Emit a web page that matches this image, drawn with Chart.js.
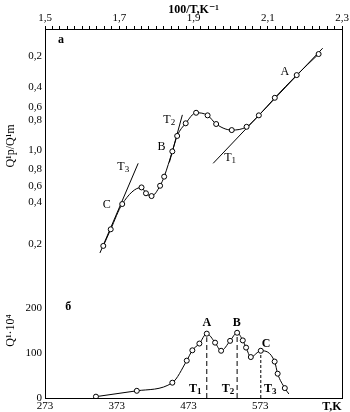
<!DOCTYPE html>
<html>
<head>
<meta charset="utf-8">
<script src="https://cdn.jsdelivr.net/npm/chart.js@4/dist/chart.umd.min.js"></script>
<style>
  body { margin: 0; background: #fff; }
  #wrap { position: relative; width: 350px; height: 412px; }
  #wrap canvas { position: absolute; left: 0; top: 0; }
</style>
</head>
<body>
<div id="wrap">
  <canvas id="topChart" width="350" height="412"></canvas>
  <canvas id="botChart" width="350" height="412"></canvas>
</div>
<script>
// panel "a": Q'p/Q'm versus 100/T
var invT  = [1.657, 1.677, 1.708, 1.760, 1.772, 1.787, 1.810, 1.821, 1.843, 1.856,
             1.879, 1.907, 1.938, 1.961, 2.003, 2.043, 2.076, 2.119, 2.178, 2.237];
var ratio = [0.73, 1.44, 2.52, 3.23, 2.98, 2.86, 3.30, 3.69, 4.77, 5.43,
             5.97, 6.42, 6.31, 5.94, 5.68, 5.82, 6.31, 7.06, 8.03, 8.93];
var invTTicks   = [1.5, 1.7, 1.9, 2.1, 2.3];
var ratioTicks  = [0.81, 2.61, 3.29, 4.02, 4.83, 6.11, 6.67, 7.52, 8.85];
var ratioLabels = ['0,2', '0,4', '0,6', '0,8', '1,0', '0,8', '0,6', '0,4', '0,2'];
var tangentT1 = [[1.953, 4.26], [2.248, 9.18]];
var tangentT2 = [[1.835, 4.30], [1.870, 6.33]];
var tangentT3 = [[1.648, 0.43], [1.751, 4.26]];

// panel "б": Q'·10^4 versus T
var tempK = [344, 401, 450.5, 470.6, 478.4, 488.2, 498.5, 510.1, 518.5, 531,
             540.8, 548.7, 553.3, 559.9, 573.8, 593.1, 597.3, 607.3, 612.9];
var qVal  = [3, 16, 34, 83, 106, 121, 143, 123, 105, 127,
             145, 128, 112, 91, 105, 81, 54, 22, 9];
var peakT   = [498.5, 540.8, 573.8];
var peakTop = [135, 137, 98];
var tempTicks = [273, 373, 473, 573, 673];
var qTicks = [0, 100, 200, 300];

Chart.defaults.font.family = "'Liberation Serif', 'DejaVu Serif', serif";
Chart.defaults.font.size = 11;
Chart.defaults.color = '#000';

var SERIF = "'Liberation Serif', 'DejaVu Serif', serif";

function pairs(list) {
  return list.map(function (p) { return { x: p[0], y: p[1] }; });
}

function straight(data, dash) {
  return {
    data: data, borderColor: '#000', borderWidth: 1, pointRadius: 0,
    borderDash: dash || [], tension: 0
  };
}

// text notes placed in data coordinates, optional subscript
function notesPlugin(notes) {
  return {
    id: 'notes',
    afterDatasetsDraw: function (chart) {
      var ctx = chart.ctx, xs = chart.scales.x, ys = chart.scales.y;
      ctx.save();
      ctx.fillStyle = '#000';
      ctx.textBaseline = 'middle';
      notes.forEach(function (n) {
        var px = xs.getPixelForValue(n.x), py = ys.getPixelForValue(n.y);
        ctx.font = n.font;
        if (n.sub) {
          var w = ctx.measureText(n.text).width;
          ctx.textAlign = 'left';
          ctx.fillText(n.text, px - w / 2 - 2, py);
          ctx.font = n.subFont;
          ctx.fillText(n.sub, px + w / 2 - 2, py + 3);
        } else {
          ctx.textAlign = 'center';
          ctx.fillText(n.text, px, py);
        }
      });
      ctx.restore();
    }
  };
}

var plain = '12px ' + SERIF, bold = 'bold 12px ' + SERIF;
var subPlain = '9px ' + SERIF, subBold = 'bold 9px ' + SERIF;

var notesA = [
  { text: 'a', x: 1.543, y: 9.53, font: bold },
  { text: 'A', x: 2.146, y: 8.16, font: plain },
  { text: 'B', x: 1.814, y: 4.96, font: plain },
  { text: 'C', x: 1.666, y: 2.48, font: plain },
  { text: 'T', sub: '1', x: 1.998, y: 4.49, font: plain, subFont: subPlain },
  { text: 'T', sub: '2', x: 1.834, y: 6.11, font: plain, subFont: subPlain },
  { text: 'T', sub: '3', x: 1.710, y: 4.10, font: plain, subFont: subPlain }
];

var notesB = [
  { text: 'б', x: 305.5, y: 202, font: bold },
  { text: 'A', x: 498.5, y: 166, font: bold },
  { text: 'B', x: 540.4, y: 166, font: bold },
  { text: 'C', x: 581.2, y: 121, font: bold },
  { text: 'T', sub: '1', x: 482.2, y: 20, font: bold, subFont: subBold },
  { text: 'T', sub: '2', x: 527.8, y: 20, font: bold, subFont: subBold },
  { text: 'T', sub: '3', x: 586.8, y: 20, font: bold, subFont: subBold }
];

function edgeAxis(pos, min, max) {
  return {
    type: 'linear', position: pos, min: min, max: max,
    ticks: { display: false },
    grid: { drawOnChartArea: false, drawTicks: false },
    border: { color: '#000', width: 1 },
    afterFit: function (s) { s.width = 0; }
  };
}

function isMajor(v) {
  return invTTicks.some(function (m) { return Math.abs(m - v) < 1e-6; });
}

// top panel
new Chart(document.getElementById('topChart'), {
  type: 'line',
  data: {
    datasets: [
      {
        data: invT.map(function (v, i) { return { x: v, y: ratio[i] }; }),
        borderColor: '#000', borderWidth: 1,
        pointRadius: 2.5, pointBackgroundColor: '#fff',
        pointBorderColor: '#000', pointBorderWidth: 1,
        cubicInterpolationMode: 'monotone'
      },
      straight(pairs(tangentT1)),
      straight(pairs(tangentT2)),
      straight(pairs(tangentT3))
    ]
  },
  options: {
    responsive: false, animation: false,
    layout: { padding: { left: 0, right: 8, top: 0, bottom: 149 } },
    plugins: { legend: { display: false }, tooltip: { enabled: false } },
    scales: {
      x: {
        type: 'linear', position: 'top', min: 1.5, max: 2.3,
        afterBuildTicks: function (s) {
          // minor marks every 0.02, labels on the major values only
          var t = [];
          for (var i = 0; i <= 40; i++) t.push({ value: 1.5 + i * 0.02 });
          s.ticks = t;
        },
        afterFit: function (s) { s.height = 29; s.paddingLeft = 0; s.paddingRight = 0; },
        ticks: {
          autoSkip: false, maxRotation: 0, padding: 1,
          callback: function (v) {
            return isMajor(v) ? v.toFixed(1).replace('.', ',') : '';
          }
        },
        grid: { drawOnChartArea: false, drawTicks: true, tickLength: 3, color: '#000' },
        border: { color: '#000', width: 1 },
        title: {
          display: true, text: '100/T,K⁻¹',
          font: { weight: 'bold', size: 12 }, padding: { top: 3, bottom: 0 }
        }
      },
      y: {
        type: 'linear', position: 'left', min: 0, max: 10,
        afterBuildTicks: function (s) {
          s.ticks = ratioTicks.map(function (v) { return { value: v }; });
        },
        afterFit: function (s) { s.width = 45; s.paddingTop = 0; s.paddingBottom = 0; },
        ticks: {
          padding: 3,
          callback: function (v) { return ratioLabels[ratioTicks.indexOf(v)]; }
        },
        grid: { drawOnChartArea: false, drawTicks: false },
        border: { color: '#000', width: 1 },
        title: { display: true, text: 'Q¹p/Q¹m', font: { size: 12 }, padding: { top: 4 } }
      },
      yr: edgeAxis('right', 0, 10)
    }
  },
  plugins: [notesPlugin(notesA)]
});

// bottom panel
var peakLines = peakT.map(function (t, i) {
  return straight([{ x: t, y: 0 }, { x: t, y: peakTop[i] }], i === 2 ? [3, 2] : [5, 3]);
});

new Chart(document.getElementById('botChart'), {
  type: 'line',
  data: {
    datasets: [
      {
        data: tempK.map(function (v, i) { return { x: v, y: qVal[i] }; }),
        borderColor: '#000', borderWidth: 1,
        pointRadius: function (c) { return c.dataIndex === tempK.length - 1 ? 0 : 2.5; },
        pointBackgroundColor: '#fff', pointBorderColor: '#000', pointBorderWidth: 1,
        cubicInterpolationMode: 'monotone'
      }
    ].concat(peakLines)
  },
  options: {
    responsive: false, animation: false,
    layout: { padding: { left: 0, right: 8, top: 263, bottom: 0 } },
    plugins: { legend: { display: false }, tooltip: { enabled: false } },
    scales: {
      x: {
        type: 'linear', position: 'bottom', min: 273, max: 687,
        afterBuildTicks: function (s) {
          s.ticks = tempTicks.map(function (v) { return { value: v }; });
        },
        afterFit: function (s) { s.height = 14; s.paddingLeft = 0; s.paddingRight = 0; },
        ticks: {
          autoSkip: false, maxRotation: 0, padding: 2,
          callback: function (v) { return v === 673 ? 'T,K' : String(v); },
          font: function (c) {
            return c.tick && c.tick.value === 673 ? { weight: 'bold', size: 12 } : { size: 11 };
          }
        },
        grid: { drawOnChartArea: false, drawTicks: false },
        border: { color: '#000', width: 1, dash: [1, 1] }
      },
      y: {
        type: 'linear', position: 'left', min: 0, max: 300,
        afterBuildTicks: function (s) {
          s.ticks = qTicks.map(function (v) { return { value: v }; });
        },
        afterFit: function (s) { s.width = 45; s.paddingTop = 0; s.paddingBottom = 0; },
        ticks: {
          padding: 3,
          callback: function (v) { return v === 300 ? '' : String(v); }
        },
        grid: { drawOnChartArea: false, drawTicks: false },
        border: { color: '#000', width: 1 },
        title: { display: true, text: 'Q¹·10⁴', font: { size: 12 }, padding: { top: 4 } }
      },
      yr: edgeAxis('right', 0, 300)
    }
  },
  plugins: [notesPlugin(notesB)]
});
</script>
</body>
</html>
